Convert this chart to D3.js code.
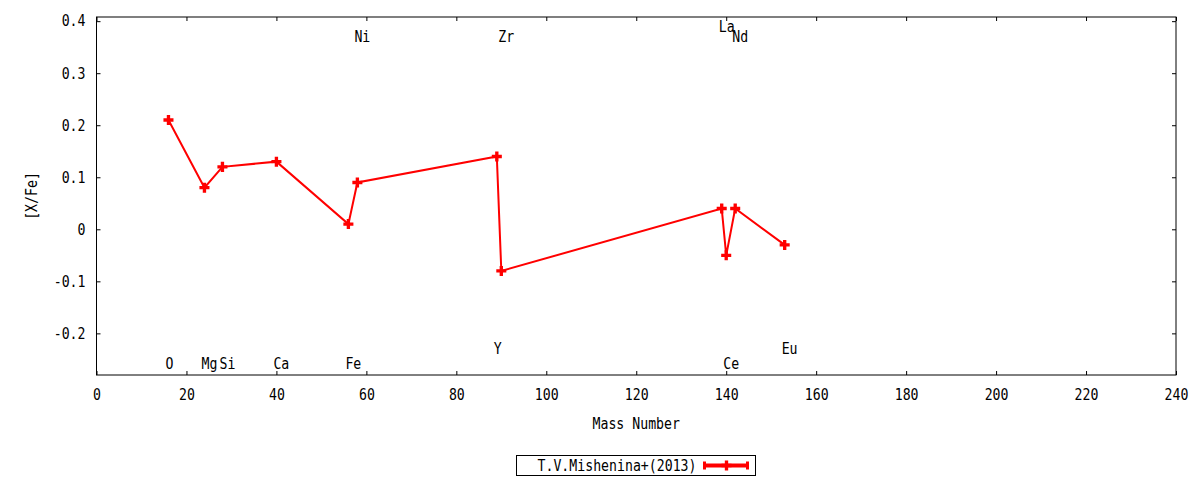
<!DOCTYPE html>
<html>
<head>
<meta charset="utf-8">
<script src="https://cdn.jsdelivr.net/npm/d3@7"></script>
<style>
  body { margin: 0; background: #fff; }
  text { font-family: "DejaVu Sans Mono", monospace; font-size: 15px; fill: #000; }
</style>
</head>
<body>
<div id="my_dataviz"></div>
<script>
// abundances from the chart
let elements    = ["O", "Mg", "Si", "Ca", "Fe", "Ni", "Y", "Zr", "La", "Ce", "Nd", "Eu"];
let massNumbers = [16, 24, 28, 40, 56, 58, 89, 90, 139, 140, 142, 153];
let xFe         = [0.21, 0.08, 0.12, 0.13, 0.01, 0.09, 0.14, -0.08, 0.04, -0.05, 0.04, -0.03];
// y (in data units) of each element label
let labelY      = [-0.258, -0.258, -0.258, -0.258, -0.258, 0.37, -0.23, 0.37, 0.39, -0.258, 0.37, -0.23];
let xTicks = [0, 20, 40, 60, 80, 100, 120, 140, 160, 180, 200, 220, 240];
let yTicks = [-0.2, -0.1, 0, 0.1, 0.2, 0.3, 0.4];
let seriesName = "T.V.Mishenina+(2013)";

let margin = {top: 17, right: 24, bottom: 105, left: 96.5},
    width = 1200 - margin.left - margin.right,
    height = 480 - margin.top - margin.bottom;

let charW = 7.95; // the gnuplot font is narrow: squeeze glyphs to this advance

let data = elements.map(function (el, i) {
    return {name: el, mass: massNumbers[i], value: xFe[i], ly: labelY[i]};
});

let root = d3.select("#my_dataviz")
    .append("svg")
    .attr("width", 1200)
    .attr("height", 480);

let svg = root.append("g")
    .attr("transform", "translate(" + margin.left + "," + margin.top + ")");

let x = d3.scaleLinear()
    .domain([0, 240])
    .range([0, width]);

let y = d3.scaleLinear()
    .domain([-0.28, 0.408])
    .range([height, 0]);

function fmtY(d) {
    return d === 0 ? "0" : d.toFixed(1);
}

// frame
svg.append("rect")
    .attr("width", width)
    .attr("height", height)
    .attr("fill", "none")
    .attr("stroke", "#000")
    .attr("stroke-width", 1);

// bottom axis, ticks pointing inwards
svg.append("g")
    .attr("transform", "translate(0," + height + ")")
    .call(d3.axisBottom(x).tickValues(xTicks).tickSize(-4).tickPadding(14).tickFormat(d3.format("d")))
    .call(g => g.select(".domain").remove());

svg.append("g")
    .call(d3.axisTop(x).tickValues(xTicks).tickSize(-4).tickFormat(""))
    .call(g => g.select(".domain").remove());

svg.append("g")
    .call(d3.axisLeft(y).tickValues(yTicks).tickSize(-4).tickPadding(11).tickFormat(fmtY))
    .call(g => g.select(".domain").remove());

svg.append("g")
    .attr("transform", "translate(" + width + ",0)")
    .call(d3.axisRight(y).tickValues(yTicks).tickSize(-4).tickFormat(""))
    .call(g => g.select(".domain").remove());

svg.selectAll(".tick line").attr("stroke", "#000");
svg.selectAll(".tick text")
    .style("font-family", "'DejaVu Sans Mono', monospace")
    .style("font-size", "15px");

// axis titles
svg.append("text")
    .attr("x", width / 2)
    .attr("y", height + 54)
    .attr("text-anchor", "middle")
    .text("Mass Number");

svg.append("text")
    .attr("transform", "translate(" + (32 - margin.left) + "," + (height / 2) + ") rotate(-90)")
    .attr("text-anchor", "middle")
    .attr("dominant-baseline", "central")
    .text("[X/Fe]");

// element labels
svg.selectAll(".elLabel")
    .data(data)
    .enter()
    .append("text")
    .classed("elLabel", true)
    .attr("x", d => x(d.mass) - 3)
    .attr("y", d => y(d.ly))
    .attr("dy", "0.36em")
    .text(d => d.name);

// line
let line = d3.line()
    .x(d => x(d.mass))
    .y(d => y(d.value));

svg.append("path")
    .datum(data)
    .attr("d", line)
    .attr("fill", "none")
    .attr("stroke", "#ff0000")
    .attr("stroke-width", 2);

let cross = d3.symbol().type(d3.symbolCross).size(56);

svg.selectAll(".myDots")
    .data(data)
    .enter()
    .append("path")
    .classed("myDots", true)
    .attr("d", cross)
    .attr("transform", d => "translate(" + x(d.mass) + "," + y(d.value) + ")")
    .attr("fill", "#ff0000");

// legend
let legend = root.append("g").attr("transform", "translate(516.5,455.5)");
legend.append("rect")
    .attr("width", 239)
    .attr("height", 20)
    .attr("fill", "#fff")
    .attr("stroke", "#000");
legend.append("text")
    .attr("x", 180)
    .attr("y", 10)
    .attr("dy", "0.36em")
    .attr("text-anchor", "end")
    .text(seriesName);
legend.append("line")
    .attr("x1", 188).attr("x2", 231)
    .attr("y1", 10).attr("y2", 10)
    .attr("stroke", "#ff0000")
    .attr("stroke-width", 4);
[188, 231].forEach(function (px) {
    legend.append("line")
        .attr("x1", px).attr("x2", px)
        .attr("y1", 6).attr("y2", 14)
        .attr("stroke", "#ff0000")
        .attr("stroke-width", 3);
});
legend.append("path")
    .attr("d", cross)
    .attr("transform", "translate(210,10)")
    .attr("fill", "#ff0000");

// narrow every label the way the reference font is
root.selectAll("text").each(function () {
    let t = d3.select(this);
    t.attr("textLength", t.text().length * charW)
        .attr("lengthAdjust", "spacingAndGlyphs");
});
</script>
</body>
</html>
